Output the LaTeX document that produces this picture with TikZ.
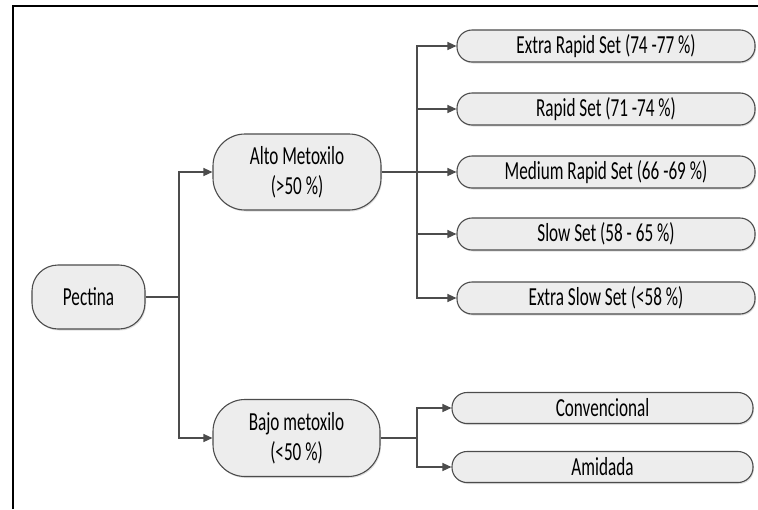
\documentclass[tikz,border=0pt]{standalone}
\usepackage{fontspec}
\setmainfont[FakeStretch=0.66]{Carlito}
\usetikzlibrary{arrows.meta,shadows}
\begin{document}
\begin{tikzpicture}[x=1pt,y=-1pt,
  pill/.style={draw=black!70,line width=1.1pt,fill=black!7,rounded corners=15pt,
    inner sep=0pt,font=\fontsize{26}{30}\selectfont,align=center,
    drop shadow={shadow xshift=1pt,shadow yshift=-1.5pt,opacity=0.25}},
  conn/.style={draw=black!70,line width=1.2pt},
  arr/.style={conn,-{Triangle[length=9pt,width=8pt]}},
  frame/.style={line width=2pt,black}]
\useasboundingbox (0,0) rectangle (758,509);
\draw[frame] (13,509) -- (13,6) -- (758,6);
% main nodes
\node[pill,minimum width=113pt,minimum height=64pt,rounded corners=26pt] (pec) at (88.5,297) {Pectina};
\node[pill,minimum width=168pt,minimum height=76pt,rounded corners=32pt] (alto) at (297,172) {Alto Metoxilo\\(>50 \%)};
\node[pill,minimum width=167pt,minimum height=77pt,rounded corners=32pt] (bajo) at (296.5,438) {Bajo metoxilo\\(<50 \%)};
% high methoxyl children
\node[pill,minimum width=298pt,minimum height=32pt] (er) at (606,46) {Extra Rapid Set (74 -77 \%)};
\node[pill,minimum width=298pt,minimum height=32pt] (r) at (606,109) {Rapid Set (71 -74 \%)};
\node[pill,minimum width=298pt,minimum height=32pt] (mr) at (606,172) {Medium Rapid Set (66 -69 \%)};
\node[pill,minimum width=298pt,minimum height=32pt] (s) at (606,234) {Slow Set (58 - 65 \%)};
\node[pill,minimum width=298pt,minimum height=32pt] (es) at (606,298) {Extra Slow Set (<58 \%)};
% low methoxyl children
\node[pill,minimum width=301pt,minimum height=31pt] (conv) at (602.5,408) {Convencional};
\node[pill,minimum width=301pt,minimum height=31pt] (ami) at (602.5,467) {Amidada};
% connectors
\coordinate (j1) at (179,297);
\coordinate (j2) at (417,172);
\coordinate (j3) at (417,438);
\draw[conn] (pec.east) -- (j1);
\draw[arr] (j1) |- (alto.west);
\draw[arr] (j1) |- (bajo.west);
\draw[conn] (alto.east) -- (j2);
\foreach \n in {er,r,mr,s,es} \draw[arr] (j2) |- (\n.west);
\draw[conn] (bajo.east) -- (j3);
\draw[arr] (j3) |- (conv.west);
\draw[arr] (j3) |- (ami.west);
\end{tikzpicture}
\end{document}
